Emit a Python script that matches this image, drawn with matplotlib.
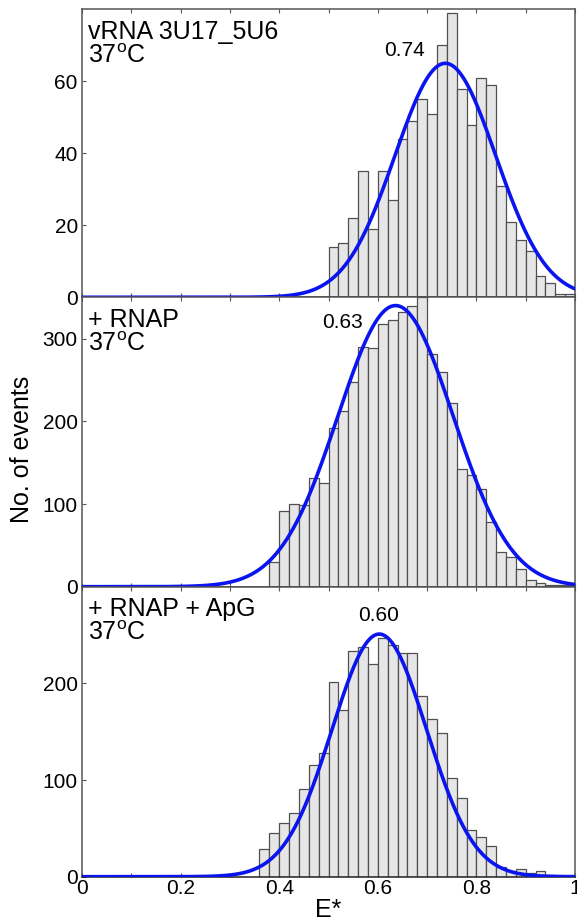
import numpy as np
import matplotlib
matplotlib.use('Agg')
import matplotlib.pyplot as plt

plt.rcParams['font.family'] = ['Liberation Sans', 'DejaVu Sans']
plt.rcParams['mathtext.fontset'] = 'custom'
plt.rcParams['mathtext.rm'] = 'Liberation Sans'
plt.rcParams['mathtext.it'] = 'Liberation Sans:italic'

# ---------------- data ----------------
bin_width = 0.02

top_start = 0.50
top_counts = [14, 15, 22, 35, 19, 35, 27, 44, 49, 55, 51, 70, 79, 58, 48, 61,
              59, 31, 21, 16, 13, 6, 4, 1, 1]
top_fit = dict(mean=0.737, sigma=0.102, amp=65)
top_label = "vRNA 3U17_5U6\n37$^\\mathrm{o}$C"
top_peak_text = "0.74"
top_peak_pos = (0.655, 68.5)
top_ylim = 80
top_yticks = [0, 20, 40, 60]

mid_start = 0.38
mid_counts = [30, 92, 100, 99, 132, 126, 192, 212, 247, 290, 289, 318, 323, 332,
              339, 350, 281, 260, 222, 142, 135, 118, 78, 42, 36, 22, 8, 4, 2, 2, 2]
mid_fit = dict(mean=0.636, sigma=0.117, amp=340)
mid_label = "+ RNAP\n37$^\\mathrm{o}$C"
mid_peak_text = "0.63"
mid_peak_pos = (0.528, 320)
mid_ylim = 350
mid_yticks = [0, 100, 200, 300]

bot_start = 0.36
bot_counts = [29, 45, 56, 66, 91, 116, 128, 201, 172, 234, 238, 220, 247, 240, 231,
              231, 187, 163, 149, 102, 81, 48, 41, 32, 10, 6, 8, 4, 6, 2]
bot_fit = dict(mean=0.603, sigma=0.096, amp=251)
bot_label = "+ RNAP + ApG\n37$^\\mathrm{o}$C"
bot_peak_text = "0.60"
bot_peak_pos = (0.602, 270)
bot_ylim = 300
bot_yticks = [0, 100, 200]

xticks = [0, 0.1, 0.2, 0.3, 0.4, 0.5, 0.6, 0.7, 0.8, 0.9, 1.0]
xticklabels = ['0', '', '0.2', '', '0.4', '', '0.6', '', '0.8', '', '1']

# ---------------- figure ----------------
W, H = 577, 924
fig = plt.figure(figsize=(W / 100, H / 100), dpi=100)

left = 82 / W
width = (575 - 82) / W
tops_px = [9.3, 297.3, 586.7]
bottoms_px = [297.3, 586.7, 876.7]

panels = [
    (top_start, top_counts, top_fit, top_label, top_peak_text, top_peak_pos, top_ylim, top_yticks),
    (mid_start, mid_counts, mid_fit, mid_label, mid_peak_text, mid_peak_pos, mid_ylim, mid_yticks),
    (bot_start, bot_counts, bot_fit, bot_label, bot_peak_text, bot_peak_pos, bot_ylim, bot_yticks),
]

xs = np.linspace(0, 1, 600)
spine_col = '#555555'

for i, (start, counts, fit, label, ptext, ppos, ylim, yticks) in enumerate(panels):
    y0 = 1 - bottoms_px[i] / H
    h = (bottoms_px[i] - tops_px[i]) / H
    ax = fig.add_axes([left, y0, width, h])
    edges = start + bin_width * np.arange(len(counts))
    ax.bar(edges, counts, width=bin_width, align='edge', color='#e6e6e6',
           edgecolor='#505050', linewidth=0.9, zorder=2)
    g = fit['amp'] * np.exp(-(xs - fit['mean']) ** 2 / (2 * fit['sigma'] ** 2))
    ax.plot(xs, g, color='#0a14f0', lw=2.6, zorder=3, solid_capstyle='round')
    ax.set_xlim(0, 1)
    ax.set_ylim(0, ylim)
    ax.set_yticks(yticks)
    ax.set_xticks(xticks)
    if i == 2:
        ax.set_xticklabels(xticklabels)
    else:
        ax.set_xticklabels([])
    ax.tick_params(direction='in', length=3, width=0.8, color=spine_col,
                   labelsize=15, pad=2, top=True)
    ax.tick_params(axis='y', pad=3)
    for s in ax.spines.values():
        s.set_color(spine_col)
        s.set_linewidth(1.1)
    ax.spines['bottom'].set_color('#222222')
    ax.annotate(label, xy=(0, 1), xycoords='axes fraction', xytext=(4.5, -7.5),
                textcoords='offset points', ha='left', va='top', fontsize=18,
                linespacing=1.0, zorder=5)
    ax.text(ppos[0], ppos[1], ptext, ha='center', va='center', fontsize=15, zorder=5)
    if i == 2:
        ax.set_xlabel('E*', fontsize=18, labelpad=0)

fig.text(22 / W, 1 - 449 / H, 'No. of events', rotation=90, ha='center', va='center',
         fontsize=18)

fig.savefig('out.png', dpi=100)
